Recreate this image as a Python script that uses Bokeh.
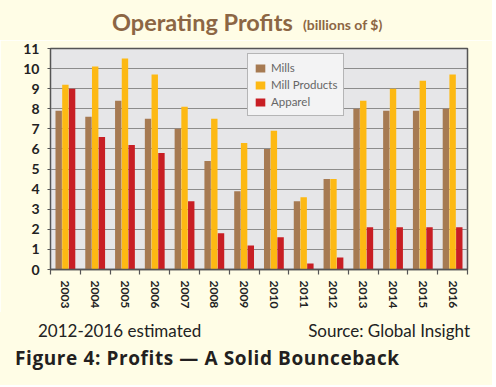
import numpy as np
from bokeh.plotting import figure
from bokeh.layouts import column
from bokeh.models import (Range1d, LinearAxis, FixedTicker, Div,
                          Legend, LegendItem, ColumnDataSource)
from bokeh.transform import dodge
from bokeh.embed import file_html
from bokeh.resources import INLINE

years = ["2003", "2004", "2005", "2006", "2007", "2008", "2009", "2010",
         "2011", "2012", "2013", "2014", "2015", "2016"]
mills = [7.9, 7.6, 8.4, 7.5, 7.0, 5.4, 3.9, 6.0, 3.4, 4.5, 8.0, 7.9, 7.9, 8.0]
mill_products = [9.2, 10.1, 10.5, 9.7, 8.1, 7.5, 6.3, 6.9, 3.6, 4.5, 8.4, 9.0, 9.4, 9.7]
apparel = [9.0, 6.6, 6.2, 5.8, 3.4, 1.8, 1.2, 1.6, 0.3, 0.6, 2.1, 2.1, 2.1, 2.1]
y_ticks = list(range(0, 12))

title_main = "Operating Profits"
title_unit = "(billions of $)"
note_left = "2012-2016 estimated"
note_right = "Source: Global Insight"
caption = "Figure 4: Profits \u2014 A Solid Bounceback"

CREAM = "#fffde6"
FONT = "Lato"

n = len(years)
centers = (np.arange(n) + 0.5).tolist()
src = ColumnDataSource(dict(xc=centers, mills=mills, prod=mill_products, app=apparel))

W = 492
HEAD_H, MAIN_H, FOOT_H = 40, 272, 73


def span(style, text):
    return f'<span style="position:absolute;line-height:1;white-space:nowrap;{style}">{text}</span>'


head_html = (f'<div style="position:relative;width:{W}px;height:{HEAD_H}px;background:{CREAM};'
             f'font-family:{FONT};color:#8c6644;font-weight:bold;">'
             + span("left:112px;top:11px;font-size:23.5px;", title_main)
             + span("left:303px;top:18px;font-size:14px;", title_unit)
             + '</div>')
head = Div(text=head_html, width=W, height=HEAD_H, margin=0,
           styles={"background-color": CREAM})

# main chart
p = figure(x_range=Range1d(0, n), y_range=Range1d(0, 11),
           width=W, height=MAIN_H, output_backend="svg", toolbar_location=None,
           x_axis_location=None, y_axis_location="left",
           min_border_left=50, min_border_right=W - 467, min_border_top=8,
           min_border_bottom=43, margin=0)

p.background_fill_color = "#e6e6e8"
p.border_fill_color = CREAM
p.outline_line_color = "#555555"
p.outline_line_width = 1.5

p.xgrid.grid_line_color = None
p.ygrid.grid_line_color = "#8c8c8c"
p.ygrid.grid_line_width = 1.2
p.ygrid.ticker = FixedTicker(ticks=y_ticks)

ya = p.yaxis[0]
ya.ticker = FixedTicker(ticks=y_ticks)
ya.axis_line_color = "#555555"
ya.major_tick_line_color = "#555555"
ya.major_tick_in = 0
ya.major_tick_out = 3
ya.minor_tick_line_color = None
ya.major_label_text_font = FONT
ya.major_label_text_font_style = "bold"
ya.major_label_text_font_size = "14px"
ya.major_label_text_color = "#222222"
ya.major_label_standoff = 8

year_axis = LinearAxis(ticker=FixedTicker(ticks=centers, minor_ticks=list(range(n + 1))),
                       major_label_overrides={c: y for c, y in zip(centers, years)},
                       axis_line_color="#555555", axis_line_width=1.5,
                       major_tick_line_color=None, major_tick_in=0, major_tick_out=2,
                       minor_tick_line_color="#555555", minor_tick_in=0, minor_tick_out=5,
                       minor_tick_line_width=1.2,
                       major_label_orientation="vertical",
                       major_label_text_font=FONT, major_label_text_font_style="bold",
                       major_label_text_font_size="12px", major_label_text_color="#222222",
                       major_label_standoff=6)
p.add_layout(year_axis, "below")

w = 0.215
r1 = p.vbar(x=dodge("xc", -0.225), top="mills", width=w, source=src,
            fill_color="#a67a52", line_color=None)
r2 = p.vbar(x=dodge("xc", 0.0), top="prod", width=w, source=src,
            fill_color="#fdb913", line_color=None)
r3 = p.vbar(x=dodge("xc", 0.225), top="app", width=w, source=src,
            fill_color="#c81e24", line_color=None)

legend = Legend(items=[LegendItem(label="Mills", renderers=[r1]),
                       LegendItem(label="Mill Products", renderers=[r2]),
                       LegendItem(label="Apparel", renderers=[r3])],
                location=(197, 153))
legend.label_text_font = FONT
legend.label_text_font_size = "11.5px"
legend.label_text_color = "#666666"
legend.glyph_width = 12
legend.glyph_height = 10
legend.label_height = 15
legend.spacing = 2
legend.padding = 6
legend.margin = 0
legend.label_standoff = 5
legend.background_fill_color = "#f3f3f4"
legend.background_fill_alpha = 1
legend.border_line_color = "#777777"
legend.border_line_width = 1.5
p.add_layout(legend)

foot_html = (f'<div style="position:relative;width:{W}px;height:{FOOT_H}px;background:{CREAM};'
             f'font-family:{FONT};color:#222222;">'
             + span("left:38px;top:10px;font-size:17px;", note_left)
             + span("right:22px;top:10px;font-size:17px;", note_right)
             + span("left:15px;top:37px;font-size:19px;font-weight:bold;color:#231f20;"
                    "letter-spacing:0.6px;font-family:'Open Sans';", caption)
             + '</div>')
foot = Div(text=foot_html, width=W, height=FOOT_H, margin=0,
           styles={"background-color": CREAM})

layout = column(head, p, foot, spacing=0)
open("out.html", "w").write(file_html(layout, INLINE))
